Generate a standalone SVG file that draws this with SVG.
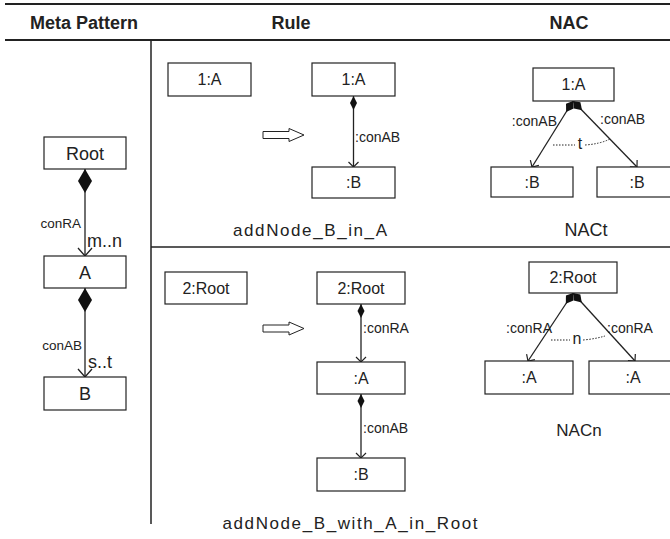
<svg xmlns="http://www.w3.org/2000/svg" width="670" height="539" viewBox="0 0 670 539">
<style>
text{font-family:"Liberation Sans",Arial,sans-serif;fill:#222}
.h{font-weight:bold;font-size:18px;text-anchor:middle}
.box{fill:#fff;stroke:#222;stroke-width:1.2}
.bt{text-anchor:middle;font-size:16px}
.mt{text-anchor:middle;font-size:18px}
.lbl{font-size:14px}
.con{stroke:#222;stroke-width:1.3;fill:none}
.dot{stroke:#222;stroke-width:1;fill:none;stroke-dasharray:1.5,1.5}
.rule{stroke:#222;fill:none}
</style>
<defs>
<marker id="dBig" viewBox="0 -7 24 14" markerWidth="24" markerHeight="14" refX="0" refY="0" orient="auto" markerUnits="userSpaceOnUse" overflow="visible"><path d="M0,0 L12,-7 L24,0 L12,7 Z" fill="#111"/></marker>
<marker id="dSm" viewBox="0 -4 14 8" markerWidth="14" markerHeight="8" refX="0" refY="0" orient="auto" markerUnits="userSpaceOnUse" overflow="visible"><path d="M0,0 L7,-3.5 L14,0 L7,3.5 Z" fill="#111"/></marker>
<marker id="dNac" viewBox="0 -5 14 10" markerWidth="14" markerHeight="10" refX="0" refY="0" orient="auto" markerUnits="userSpaceOnUse" overflow="visible"><path d="M0,0 L6,-4.5 L13,0 L6,4.5 Z" fill="#111"/></marker>
<marker id="aBig" viewBox="-10 -8 11 16" markerWidth="11" markerHeight="16" refX="0" refY="0" orient="auto" markerUnits="userSpaceOnUse" overflow="visible"><path d="M-8,-7 L0,0 L-8,7" fill="none" stroke="#222" stroke-width="1.3"/></marker>
<marker id="aSm" viewBox="-7 -6 8 12" markerWidth="8" markerHeight="12" refX="0" refY="0" orient="auto" markerUnits="userSpaceOnUse" overflow="visible"><path d="M-5,-5 L0,0 L-5,5" fill="none" stroke="#222" stroke-width="1.2"/></marker>
</defs>
<rect width="670" height="539" fill="#fff"/>
<g id="table">
<line class="rule" x1="5" y1="4" x2="670" y2="4" stroke-width="2"/>
<line class="rule" x1="5" y1="40" x2="670" y2="40" stroke-width="2"/>
<line class="rule" x1="151" y1="40" x2="151" y2="524" stroke-width="1.5"/>
<line class="rule" x1="151" y1="247" x2="670" y2="247" stroke-width="1.5"/>
<text class="h" x="84" y="29">Meta Pattern</text>
<text class="h" x="291" y="29">Rule</text>
<text class="h" x="569" y="29">NAC</text>
</g>
<g id="connectors">
<line class="con" x1="85" y1="169" x2="85" y2="256" marker-start="url(#dBig)" marker-end="url(#aBig)"/>
<line class="con" x1="85" y1="288" x2="85" y2="377" marker-start="url(#dBig)" marker-end="url(#aBig)"/>
<line class="con" x1="353.5" y1="96" x2="353.5" y2="167" marker-start="url(#dSm)" marker-end="url(#aSm)"/>
<line class="con" x1="361" y1="304" x2="361" y2="362" marker-start="url(#dSm)" marker-end="url(#aSm)"/>
<line class="con" x1="361" y1="394" x2="361" y2="458" marker-start="url(#dSm)" marker-end="url(#aSm)"/>
<line class="con" x1="573" y1="101" x2="532" y2="167" marker-start="url(#dNac)" marker-end="url(#aSm)"/>
<line class="con" x1="573" y1="101" x2="637" y2="167" marker-start="url(#dNac)" marker-end="url(#aSm)"/>
<line class="con" x1="573" y1="293" x2="528" y2="361" marker-start="url(#dNac)" marker-end="url(#aSm)"/>
<line class="con" x1="573" y1="293" x2="635" y2="361" marker-start="url(#dNac)" marker-end="url(#aSm)"/>
<path class="dot" d="M553,145 L575,145"/>
<path class="dot" d="M585,145 Q600,144 610,139"/>
<path class="dot" d="M551,340 L570,340"/>
<path class="dot" d="M583,340 Q595,339 605,336"/>
<path d="M263,131.5 L289,131.5 L289,128.5 L304,135 L289,141.5 L289,138.5 L263,138.5 Z" fill="#fff" stroke="#222" stroke-width="1"/>
<path d="M263,325 L289,325 L289,322 L304,328.5 L289,335 L289,332 L263,332 Z" fill="#fff" stroke="#222" stroke-width="1"/>
<text x="81" y="228" font-size="13.5" text-anchor="end">conRA</text>
<text x="87" y="247" font-size="18">m..n</text>
<text x="82" y="350" font-size="13.5" text-anchor="end">conAB</text>
<text x="88" y="368" font-size="18">s..t</text>
<text class="lbl" x="355" y="142">:conAB</text>
<text class="lbl" x="363" y="333">:conRA</text>
<text class="lbl" x="363" y="433">:conAB</text>
<text class="lbl" x="557" y="126" text-anchor="end">:conAB</text>
<text class="lbl" x="600" y="124">:conAB</text>
<text x="580" y="149" font-size="16" text-anchor="middle">t</text>
<text class="lbl" x="552" y="333" text-anchor="end">:conRA</text>
<text class="lbl" x="607" y="333">:conRA</text>
<text x="577" y="344" font-size="16" text-anchor="middle">n</text>
</g>
<g id="meta-root"><rect class="box" x="44" y="137" width="82" height="32"/><text class="mt" x="85" y="160">Root</text></g>
<g id="meta-a"><rect class="box" x="44" y="256" width="82" height="32"/><text class="mt" x="85" y="279">A</text></g>
<g id="meta-b"><rect class="box" x="44" y="377" width="82" height="33"/><text class="mt" x="85" y="400">B</text></g>
<g id="r1-lhs-a"><rect class="box" x="168" y="63" width="83" height="33"/><text class="bt" x="209.5" y="85">1:A</text></g>
<g id="r1-rhs-a"><rect class="box" x="312" y="63" width="83" height="33"/><text class="bt" x="353.5" y="85">1:A</text></g>
<g id="r1-rhs-b"><rect class="box" x="312" y="167" width="83" height="31"/><text class="bt" x="353.5" y="188">:B</text></g>
<text x="310" y="236" font-size="17" text-anchor="middle" textLength="154" lengthAdjust="spacing">addNode_B_in_A</text>
<g id="nac1-a"><rect class="box" x="533" y="68" width="81" height="33"/><text class="bt" x="573.5" y="90">1:A</text></g>
<g id="nac1-b1"><rect class="box" x="491" y="167" width="82" height="30"/><text class="bt" x="532" y="188">:B</text></g>
<g id="nac1-b2"><rect class="box" x="597" y="167" width="82" height="30"/><text class="bt" x="637" y="188">:B</text></g>
<text x="586" y="236" font-size="18" text-anchor="middle">NACt</text>
<g id="r2-lhs-root"><rect class="box" x="165" y="272" width="82" height="32"/><text class="bt" x="206" y="294">2:Root</text></g>
<g id="r2-rhs-root"><rect class="box" x="317" y="272" width="88" height="32"/><text class="bt" x="361" y="294">2:Root</text></g>
<g id="r2-rhs-a"><rect class="box" x="317" y="362" width="88" height="32"/><text class="bt" x="361" y="384">:A</text></g>
<g id="r2-rhs-b"><rect class="box" x="317" y="458" width="88" height="33"/><text class="bt" x="361" y="480">:B</text></g>
<text x="350" y="529" font-size="17" text-anchor="middle" textLength="255" lengthAdjust="spacing">addNode_B_with_A_in_Root</text>
<g id="nac2-root"><rect class="box" x="529" y="262" width="88" height="31"/><text class="bt" x="573" y="283">2:Root</text></g>
<g id="nac2-a1"><rect class="box" x="485" y="361" width="88" height="33"/><text class="bt" x="529" y="383">:A</text></g>
<g id="nac2-a2"><rect class="box" x="589" y="361" width="88" height="33"/><text class="bt" x="633" y="383">:A</text></g>
<text x="579" y="436" font-size="17" text-anchor="middle">NACn</text>
</svg>
